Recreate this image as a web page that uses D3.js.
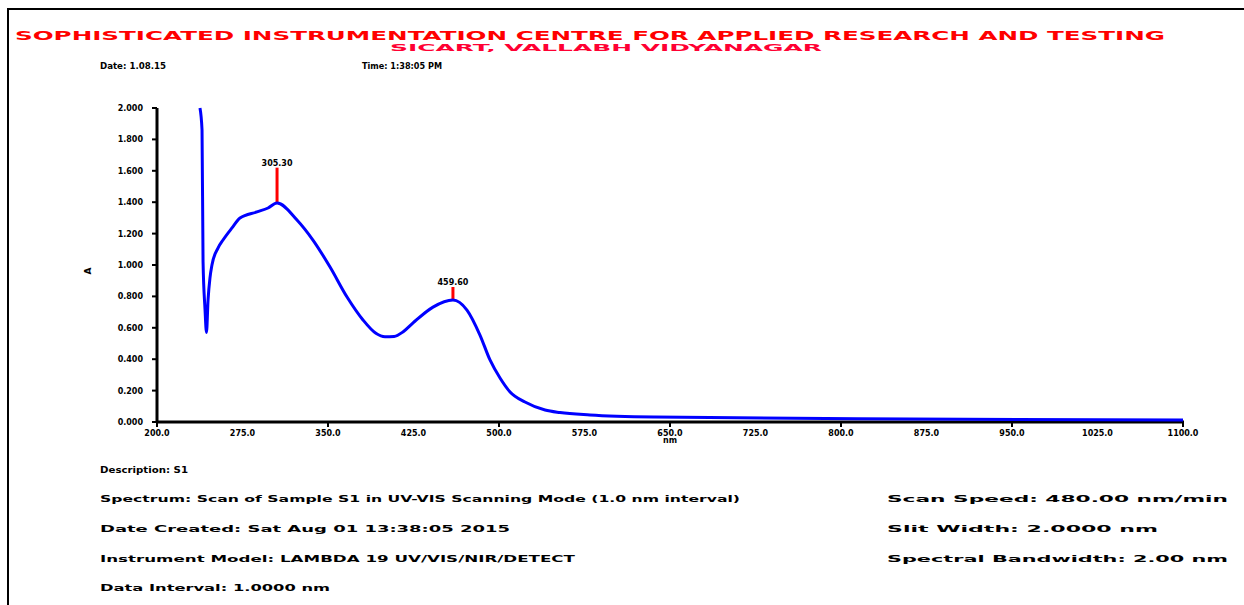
<!DOCTYPE html>
<html>
<head>
<meta charset="utf-8">
<script src="https://cdn.jsdelivr.net/npm/d3@7"></script>
<style>
  body { margin: 0; background: #fff; }
  text { font-family: "DejaVu Sans", sans-serif; font-weight: bold; }
</style>
</head>
<body>
<div id="vis"></div>
<script>
// spectrum (nm, absorbance)
const wavelengths = [237.7, 239.5, 240.4, 242.1, 243.4, 244.8, 246.5, 248.2, 253.5, 257.9, 265.8, 272.8, 287.7, 297.4, 305.3,
  322.8, 336.8, 351.8, 366.7, 380.7, 392.0, 400.0, 408.0, 416.0, 424.6, 442.1, 459.6, 471.9, 483.3, 492.1, 500.9, 509.7,
  522.8, 540.4, 553.5, 579.8, 636.8, 860.5, 1100];
const absorbance = [2.0, 1.86, 1.02, 0.72, 0.57, 0.78, 0.92, 1.0, 1.108, 1.159, 1.236, 1.299, 1.338, 1.363, 1.395,
  1.287, 1.159, 0.987, 0.796, 0.650, 0.565, 0.543, 0.545, 0.575, 0.631, 0.732, 0.777, 0.713, 0.554, 0.395, 0.280, 0.191,
  0.127, 0.076, 0.060, 0.045, 0.032, 0.019, 0.013];

const peakNm = [305.3, 459.6];
const peakAbs = [1.395, 0.777];
const peakTop = [1.62, 0.86];
const peakLabels = ["305.30", "459.60"];

const xTickValues = d3.range(200, 1101, 75);
const xMajorTicks = d3.range(200, 1101, 150);
const yTickValues = d3.range(0, 2.001, 0.2);

const titleLines = ["SOPHISTICATED INSTRUMENTATION CENTRE FOR APPLIED RESEARCH AND TESTING", "SICART, VALLABH VIDYANAGAR"];
const headerTexts = ["Date: 1.08.15", "Time: 1:38:05 PM"];
const infoLeft = ["Description: S1",
  "Spectrum: Scan of Sample S1 in UV-VIS Scanning Mode (1.0 nm interval)",
  "Date Created: Sat Aug 01 13:38:05 2015",
  "Instrument Model: LAMBDA 19 UV/VIS/NIR/DETECT",
  "Data Interval: 1.0000 nm"];
const infoRight = ["Scan Speed: 480.00 nm/min", "Slit Width: 2.0000 nm", "Spectral Bandwidth: 2.00 nm"];

const W = 1244, H = 605;
const svg = d3.select("#vis").append("svg")
    .attr("width", W)
    .attr("height", H);

// page frame
svg.append("path")
    .attr("d", "M8,605 L8,9 L1244,9")
    .attr("fill", "none")
    .attr("stroke", "#000")
    .attr("stroke-width", 2);

// titles
svg.append("text")
    .attr("x", 15).attr("y", 40)
    .attr("textLength", 1150).attr("lengthAdjust", "spacingAndGlyphs")
    .style("font-size", "12px").attr("fill", "#ff0000")
    .text(titleLines[0]);
svg.append("text")
    .attr("x", 390).attr("y", 51)
    .attr("textLength", 432).attr("lengthAdjust", "spacingAndGlyphs")
    .style("font-size", "9px").attr("fill", "#ff0033")
    .text(titleLines[1]);

svg.append("text").attr("x", 100).attr("y", 69)
    .attr("textLength", 66).attr("lengthAdjust", "spacingAndGlyphs")
    .style("font-size", "9px").text(headerTexts[0]);
svg.append("text").attr("x", 362).attr("y", 69)
    .attr("textLength", 80).attr("lengthAdjust", "spacingAndGlyphs")
    .style("font-size", "9px").text(headerTexts[1]);

// plot area
const x = d3.scaleLinear().domain([200, 1100]).range([157, 1183]);
const y = d3.scaleLinear().domain([0, 2]).range([422, 108]);

// y axis
svg.append("line")
    .attr("x1", 157).attr("x2", 157)
    .attr("y1", 108).attr("y2", 423)
    .attr("stroke", "#000").attr("stroke-width", 3);
svg.selectAll(".ytick").data(yTickValues).join("line")
    .attr("class", "ytick")
    .attr("x1", 152).attr("x2", 157)
    .attr("y1", d => y(d)).attr("y2", d => y(d))
    .attr("stroke", "#000").attr("stroke-width", 2);
svg.selectAll(".ylab").data(yTickValues).join("text")
    .attr("class", "ylab")
    .attr("x", 143).attr("y", d => y(d) + 3)
    .attr("text-anchor", "end")
    .style("font-size", "8px")
    .text(d => d3.format(".3f")(d));
svg.append("text")
    .attr("transform", "translate(91,271) rotate(-90)")
    .attr("text-anchor", "middle")
    .style("font-size", "9px")
    .text("A");

// x axis
svg.append("line")
    .attr("x1", 156).attr("x2", 1184)
    .attr("y1", 422).attr("y2", 422)
    .attr("stroke", "#000").attr("stroke-width", 3);
svg.selectAll(".xtick").data(xMajorTicks).join("line")
    .attr("class", "xtick")
    .attr("x1", d => x(d)).attr("x2", d => x(d))
    .attr("y1", 422).attr("y2", 427)
    .attr("stroke", "#000").attr("stroke-width", 2);
svg.selectAll(".xlab").data(xTickValues).join("text")
    .attr("class", "xlab")
    .attr("x", d => x(d)).attr("y", 436)
    .attr("text-anchor", "middle")
    .style("font-size", "8px")
    .text(d => d3.format(".1f")(d));
svg.append("text")
    .attr("x", x(650)).attr("y", 443)
    .attr("text-anchor", "middle")
    .style("font-size", "8px")
    .text("nm");

// peak markers
svg.selectAll(".peak").data(peakNm).join("line")
    .attr("class", "peak")
    .attr("x1", d => x(d)).attr("x2", d => x(d))
    .attr("y1", (d, i) => y(peakAbs[i])).attr("y2", (d, i) => y(peakTop[i]))
    .attr("stroke", "#ff0000").attr("stroke-width", 3);
svg.selectAll(".peaklab").data(peakNm).join("text")
    .attr("class", "peaklab")
    .attr("x", d => x(d)).attr("y", (d, i) => y(peakTop[i]) - 2)
    .attr("text-anchor", "middle")
    .style("font-size", "8px")
    .text((d, i) => peakLabels[i]);

// spectrum
const pts = wavelengths.map((w, i) => [w, absorbance[i]]);
svg.append("path")
    .datum(pts)
    .attr("fill", "none")
    .attr("stroke", "#0000ff")
    .attr("stroke-width", 3)
    .attr("d", d3.line()
        .x(d => x(d[0]))
        .y(d => y(d[1]))
        .curve(d3.curveMonotoneX));

// footer info
const leftY = [473, 502, 532, 562, 591];
const leftW = [88, 640, 410, 475, 230];
svg.selectAll(".infoL").data(infoLeft).join("text")
    .attr("class", "infoL")
    .attr("x", 100).attr("y", (d, i) => leftY[i])
    .attr("textLength", (d, i) => leftW[i]).attr("lengthAdjust", "spacingAndGlyphs")
    .style("font-size", "9px")
    .text(d => d);

const rightY = [502, 532, 562];
const rightW = [341, 271, 341];
svg.selectAll(".infoR").data(infoRight).join("text")
    .attr("class", "infoR")
    .attr("x", 887).attr("y", (d, i) => rightY[i])
    .attr("textLength", (d, i) => rightW[i]).attr("lengthAdjust", "spacingAndGlyphs")
    .style("font-size", "9px")
    .text(d => d);
</script>
</body>
</html>
